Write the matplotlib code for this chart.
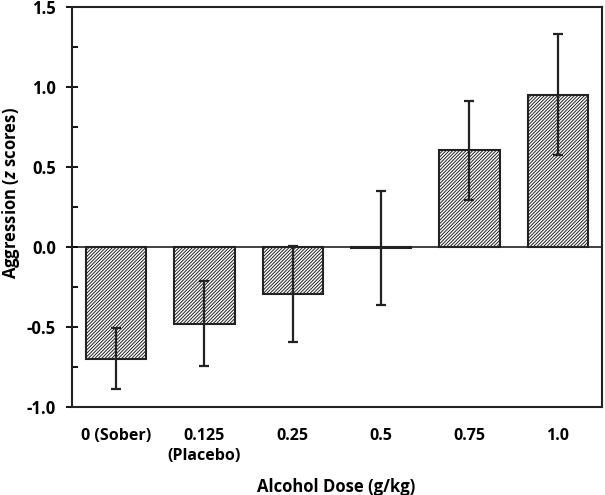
import numpy as np
import matplotlib.pyplot as plt
from matplotlib.ticker import MultipleLocator

# dose groups and mean aggression (z scores) with error bar half-widths
doses = ['0 (Sober)', '0.125\n(Placebo)', '0.25', '0.5', '0.75', '1.0']
means = [-0.695, -0.476, -0.29, -0.005, 0.606, 0.953]
errs = [0.19, 0.265, 0.30, 0.355, 0.312, 0.378]
yticks = [-1.0, -0.5, 0.0, 0.5, 1.0, 1.5]

plt.rcParams['font.family'] = ['Open Sans', 'DejaVu Sans']
plt.rcParams['font.weight'] = 'bold'
plt.rcParams['axes.labelweight'] = 'bold'
plt.rcParams['mathtext.fontset'] = 'custom'
plt.rcParams['mathtext.it'] = 'Open Sans:italic:bold'
plt.rcParams['hatch.linewidth'] = 0.7
plt.rcParams['hatch.color'] = '#2a2a2a'

fig = plt.figure(figsize=(6.05, 4.95), dpi=100)
ax = fig.add_axes([0.119, 0.177, 0.876, 0.808])

x = np.arange(len(doses))
ax.bar(x, means, width=0.68, color='white', edgecolor='#222222',
       linewidth=1.5, hatch='//////////', zorder=2)
ax.errorbar(x, means, yerr=errs, fmt='none', ecolor='#222222',
            elinewidth=1.6, capsize=3.5, capthick=1.6, zorder=3)
ax.axhline(0, color='#222222', lw=1.2, zorder=1)

ax.set_xlim(-0.5, 5.5)
ax.set_ylim(-1.0, 1.5)
ax.yaxis.set_minor_locator(MultipleLocator(0.25))
ax.set_yticks(yticks)
ax.set_yticklabels(['%.1f' % v for v in yticks])
ax.tick_params(axis='y', which='major', direction='inout', length=9, width=1.3,
               labelsize=12, pad=7)
ax.tick_params(axis='y', which='minor', direction='in', length=4, width=1.3)
ax.set_xticks(x)
ax.set_xticklabels(doses, fontsize=11.5, linespacing=1.35)
ax.tick_params(axis='x', length=0, pad=15)

for s in ax.spines.values():
    s.set_linewidth(1.5)
    s.set_color('#222222')

# axis titles placed on the figure
fig.text(0.018, 0.61, 'Aggression ($z$ scores)', rotation=90, fontsize=12,
         fontweight='bold', ha='center', va='center')
fig.text(0.555, 0.017, 'Alcohol Dose (g/kg)', fontsize=12,
         fontweight='bold', ha='center', va='center')

plt.savefig('out.png', dpi=100)
